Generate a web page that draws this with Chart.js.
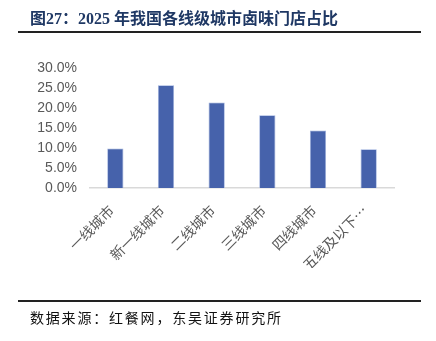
<!DOCTYPE html>
<html>
<head>
<meta charset="utf-8">
<script src="https://cdn.jsdelivr.net/npm/chart.js@4"></script>
<style>
  html, body { margin: 0; padding: 0; background: #fff; }
  #wrap { position: relative; width: 436px; height: 341px; overflow: hidden; }
  #title {
    position: absolute; left: 30px; top: 5px; white-space: nowrap;
    font: bold 16px "Liberation Serif", "Noto Sans CJK SC", serif;
    color: #1f3864;
  }
  .rule { position: absolute; left: 18px; width: 403px; height: 1.5px; background: #222; }
  #source {
    position: absolute; left: 30px; top: 307px; white-space: nowrap;
    font: 14px "Noto Sans CJK SC", sans-serif; letter-spacing: 1.8px;
    color: #111;
  }
  #chartBox { position: absolute; left: 0; top: 0; width: 436px; height: 341px; }
</style>
</head>
<body>
<div id="wrap">
  <div id="chartBox"><canvas id="myChart" width="436" height="341"></canvas></div>
  <div id="title">图27：2025 年我国各线级城市卤味门店占比</div>
  <div class="rule" style="top:31px"></div>
  <div class="rule" style="top:300px"></div>
  <div id="source">数据来源：红餐网，东吴证券研究所</div>
</div>
<script>
// 各线级城市卤味门店占比（%）
const cityTiers = ["一线城市", "新一线城市", "二线城市", "三线城市", "四线城市", "五线及以下…"];
const storeShare = [9.9, 25.7, 21.4, 18.2, 14.4, 9.7];
const yTicks = [0, 5, 10, 15, 20, 25, 30];

const ctx = document.querySelector("#myChart");

const chart = new Chart(ctx, {
  type: "bar",
  data: {
    labels: cityTiers,
    datasets: [
      {
        data: storeShare,
        backgroundColor: "#4662ab",
        borderColor: "#9aaedb",
        borderWidth: 0.8,
        categoryPercentage: 1,
        barPercentage: 0.32,
      },
    ],
  },
  options: {
    responsive: false,
    animation: false,
    layout: {
      padding: { left: 0, top: 68, right: 42, bottom: 73 },
    },
    plugins: {
      legend: { display: false },
      tooltip: { enabled: false },
    },
    scales: {
      y: {
        min: 0,
        max: 30,
        afterFit: (scale) => {
          scale.width = 90;
        },
        afterBuildTicks: (scale) => {
          scale.ticks = yTicks.map((v) => ({ value: v }));
        },
        grid: { display: false, drawTicks: false },
        border: { display: false },
        ticks: {
          padding: 13,
          color: "#595959",
          font: { family: "Liberation Sans", size: 14 },
          callback: (v) => v.toFixed(1) + "%",
        },
      },
      x: {
        afterFit: (scale) => {
          scale.height = 80;
        },
        grid: { display: false, drawTicks: false },
        border: { display: true, color: "#d9d9d9", width: 1.5 },
        ticks: {
          autoSkip: false,
          minRotation: 45,
          maxRotation: 45,
          padding: 14,
          labelOffset: -4,
          color: "#595959",
          font: { family: "Noto Sans CJK SC", size: 14 },
        },
      },
    },
  },
});
</script>
</body>
</html>
